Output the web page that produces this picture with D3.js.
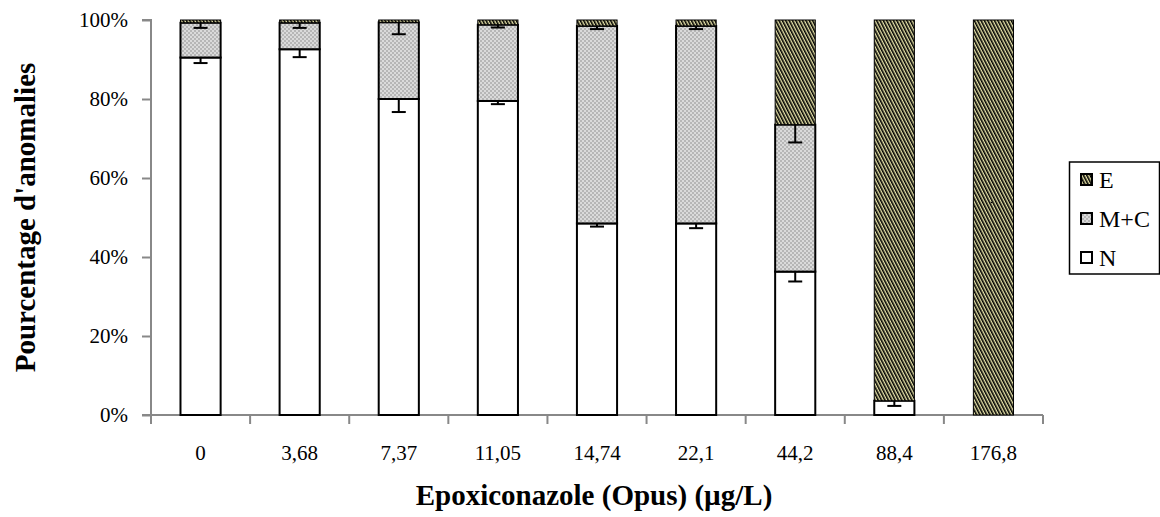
<!DOCTYPE html>
<html><head><meta charset="utf-8">
<script src="https://cdn.jsdelivr.net/npm/d3@7"></script>
<style>body{margin:0;background:#fff}svg{display:block}</style>
</head><body>
<svg id="chart" width="1160" height="517"></svg>
<script>
const categories = ["0","3,68","7,37","11,05","14,74","22,1","44,2","88,4","176,8"];
const seriesN  = [90.5, 92.6, 80.0, 79.5, 48.5, 48.5, 36.3, 3.6, 0];
const seriesMC = [8.8, 6.7, 19.4, 19.3, 50.0, 50.0, 37.2, 0, 0];
const seriesE  = [0.7, 0.7, 0.6, 1.2, 1.5, 1.5, 26.5, 96.4, 100];
const errN  = [1.4, 2.0, 3.3, 0.8, 0.8, 1.2, 2.5, 1.3, 0];
const errMC = [1.3, 1.3, 3.0, 0.7, 0.8, 0.8, 4.5, 0, 0];
const yTicks = [0, 20, 40, 60, 80, 100];
const legendLabels = ["E", "M+C", "N"];

const svg = d3.select("#chart");
const font = "'Liberation Serif','Times New Roman',serif";
const pL = 151, pR = 1043, pT = 20, pB = 415;

const defs = svg.append("defs");
const pe = defs.append("pattern").attr("id","hatchE").attr("patternUnits","userSpaceOnUse")
  .attr("width",3).attr("height",6).attr("patternTransform","rotate(-27)");
pe.append("rect").attr("width",3).attr("height",6).attr("fill","#e6e2a8");
pe.append("rect").attr("width",1.6).attr("height",6).attr("fill","#000");
const pm = defs.append("pattern").attr("id","dotMC").attr("patternUnits","userSpaceOnUse")
  .attr("width",4).attr("height",4);
pm.append("rect").attr("width",4).attr("height",4).attr("fill","#dadada");
pm.append("rect").attr("width",2).attr("height",2).attr("fill","#b6b6b6");
pm.append("rect").attr("x",2).attr("y",2).attr("width",2).attr("height",2).attr("fill","#b6b6b6");

const x = d3.scaleBand().domain(categories).range([pL, pR]).paddingInner(0.595).paddingOuter(0.2975);
const y = d3.scaleLinear().domain([0, 100]).range([pB, pT]);

const rows = categories.map((c,i) => {
  const n0 = 0, n1 = seriesN[i], m1 = n1 + seriesMC[i], e1 = m1 + seriesE[i];
  return {c, i, segs: [
    {key:"N", y0:n0, y1:n1, fill:"#fff", stroke:"#000", sw:2},
    {key:"MC", y0:n1, y1:m1, fill:"url(#dotMC)", stroke:"#000", sw:2},
    {key:"E", y0:m1, y1:Math.min(e1,100), fill:"url(#hatchE)", stroke:"#000", sw:1}
  ]};
});

// axes
const yAxis = d3.axisLeft(y).tickValues(yTicks).tickFormat(d => d + "%").tickSize(9).tickPadding(14);
const ya = svg.append("g").attr("transform",`translate(${pL},0)`).call(yAxis);
ya.select(".domain").attr("stroke","#888").attr("stroke-width",2).attr("d",`M-9,${pT}H0V${pB}H-9`);
ya.selectAll(".tick line").attr("stroke","#888").attr("stroke-width",2);
ya.selectAll("text").attr("font-family",font).attr("font-size",21).attr("fill","#000");

const bounds = categories.map((c,i)=> pL + i*x.step()).concat([pR]);
const xa = svg.append("g").attr("transform",`translate(0,${pB})`);
xa.append("line").attr("x1",pL-9).attr("x2",pR).attr("y1",0).attr("y2",0).attr("stroke","#888").attr("stroke-width",2);
xa.selectAll("line.tk").data(bounds).join("line").attr("class","tk")
  .attr("x1",d=>d).attr("x2",d=>d).attr("y1",0).attr("y2",9).attr("stroke","#888").attr("stroke-width",2);
xa.selectAll("text").data(categories).join("text")
  .attr("x",d=>x(d)+x.bandwidth()/2).attr("y",45).attr("text-anchor","middle")
  .attr("font-family",font).attr("font-size",21).text(d=>d);

// bars
const g = svg.append("g");
rows.forEach(r => {
  r.segs.forEach(s => {
    if (s.y1 - s.y0 <= 0) return;
    g.append("rect").attr("x",x(r.c)).attr("width",x.bandwidth())
      .attr("y",y(s.y1)).attr("height",y(s.y0)-y(s.y1))
      .attr("fill",s.fill).attr("stroke",s.stroke).attr("stroke-width",s.sw);
  });
});
// error bars (lower half visible)
const eb = svg.append("g").attr("stroke","#000").attr("stroke-width",2);
rows.forEach(r => {
  const cx = x(r.c) + x.bandwidth()/2;
  [[seriesN[r.i], errN[r.i]], [seriesN[r.i]+seriesMC[r.i], errMC[r.i]]].forEach(([v,e]) => {
    if (e <= 0) return;
    eb.append("line").attr("x1",cx).attr("x2",cx).attr("y1",y(v)).attr("y2",y(v-e));
    eb.append("line").attr("x1",cx-7).attr("x2",cx+7).attr("y1",y(v-e)).attr("y2",y(v-e));
  });
});

// titles
svg.append("text").attr("x",(pL+pR)/2 - 3).attr("y",505).attr("text-anchor","middle")
  .attr("font-family",font).attr("font-weight","bold").attr("font-size",29).text("Epoxiconazole (Opus) (µg/L)");
svg.append("text").attr("transform",`translate(35,${(pT+pB)/2}) rotate(-90)`).attr("text-anchor","middle")
  .attr("font-family",font).attr("font-weight","bold").attr("font-size",29).text("Pourcentage d'anomalies");

// legend
const lg = svg.append("g");
lg.append("rect").attr("x",1069.5).attr("y",162).attr("width",90).attr("height",112).attr("fill","#fff").attr("stroke","#000").attr("stroke-width",1.5);
const fills = ["url(#hatchE)","url(#dotMC)","#fff"];
legendLabels.forEach((l,i) => {
  const cy = 180 + i*39;
  lg.append("rect").attr("x",1081).attr("y",cy-6).attr("width",11).attr("height",11)
    .attr("fill",fills[i]).attr("stroke","#000").attr("stroke-width",2);
  lg.append("text").attr("x",1099).attr("y",cy+8).attr("font-family",font).attr("font-size",24).text(l);
});
</script>
</body></html>
